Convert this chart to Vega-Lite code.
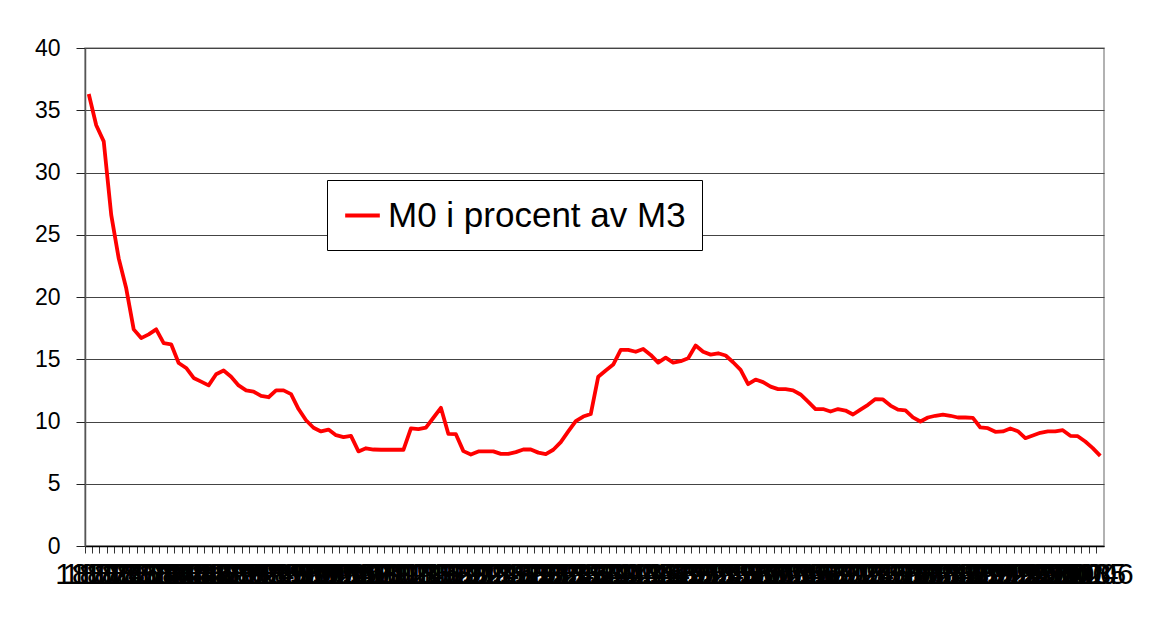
{
  "$schema": "https://vega.github.io/schema/vega-lite/v6.json",
  "autosize": {"type": "none"},
  "width": 1019,
  "height": 498,
  "padding": {"left": 85, "top": 48, "right": 62, "bottom": 93},
  "background": "white",
  "config": {
    "font": "Liberation Sans",
    "view": {"stroke": "#999999", "strokeWidth": 1.5}
  },
  "data": {
    "values": [
      {"year": 1871, "value": 36.3}, {"year": 1872, "value": 33.8}, {"year": 1873, "value": 32.5},
      {"year": 1874, "value": 26.6}, {"year": 1875, "value": 23.1}, {"year": 1876, "value": 20.7},
      {"year": 1877, "value": 17.4}, {"year": 1878, "value": 16.7}, {"year": 1879, "value": 17.0},
      {"year": 1880, "value": 17.4}, {"year": 1881, "value": 16.3}, {"year": 1882, "value": 16.2},
      {"year": 1883, "value": 14.7}, {"year": 1884, "value": 14.3}, {"year": 1885, "value": 13.5},
      {"year": 1886, "value": 13.2}, {"year": 1887, "value": 12.9}, {"year": 1888, "value": 13.8},
      {"year": 1889, "value": 14.1}, {"year": 1890, "value": 13.6}, {"year": 1891, "value": 12.9},
      {"year": 1892, "value": 12.5}, {"year": 1893, "value": 12.4}, {"year": 1894, "value": 12.05},
      {"year": 1895, "value": 11.95}, {"year": 1896, "value": 12.5}, {"year": 1897, "value": 12.5},
      {"year": 1898, "value": 12.2}, {"year": 1899, "value": 11.0}, {"year": 1900, "value": 10.1},
      {"year": 1901, "value": 9.5}, {"year": 1902, "value": 9.2}, {"year": 1903, "value": 9.35},
      {"year": 1904, "value": 8.9}, {"year": 1905, "value": 8.75}, {"year": 1906, "value": 8.85},
      {"year": 1907, "value": 7.6}, {"year": 1908, "value": 7.85}, {"year": 1909, "value": 7.75},
      {"year": 1910, "value": 7.73}, {"year": 1911, "value": 7.73}, {"year": 1912, "value": 7.73},
      {"year": 1913, "value": 7.73}, {"year": 1914, "value": 9.45}, {"year": 1915, "value": 9.38},
      {"year": 1916, "value": 9.5}, {"year": 1917, "value": 10.3}, {"year": 1918, "value": 11.1},
      {"year": 1919, "value": 9.0}, {"year": 1920, "value": 8.98}, {"year": 1921, "value": 7.62},
      {"year": 1922, "value": 7.35}, {"year": 1923, "value": 7.6}, {"year": 1924, "value": 7.6},
      {"year": 1925, "value": 7.6}, {"year": 1926, "value": 7.4}, {"year": 1927, "value": 7.4},
      {"year": 1928, "value": 7.54}, {"year": 1929, "value": 7.75}, {"year": 1930, "value": 7.75},
      {"year": 1931, "value": 7.5}, {"year": 1932, "value": 7.38}, {"year": 1933, "value": 7.73},
      {"year": 1934, "value": 8.34}, {"year": 1935, "value": 9.2}, {"year": 1936, "value": 10.03},
      {"year": 1937, "value": 10.4}, {"year": 1938, "value": 10.6}, {"year": 1939, "value": 13.6},
      {"year": 1940, "value": 14.1}, {"year": 1941, "value": 14.57}, {"year": 1942, "value": 15.75},
      {"year": 1943, "value": 15.75}, {"year": 1944, "value": 15.6}, {"year": 1945, "value": 15.83},
      {"year": 1946, "value": 15.35}, {"year": 1947, "value": 14.73}, {"year": 1948, "value": 15.13},
      {"year": 1949, "value": 14.73}, {"year": 1950, "value": 14.84}, {"year": 1951, "value": 15.08},
      {"year": 1952, "value": 16.1}, {"year": 1953, "value": 15.6}, {"year": 1954, "value": 15.37},
      {"year": 1955, "value": 15.48}, {"year": 1956, "value": 15.3}, {"year": 1957, "value": 14.76},
      {"year": 1958, "value": 14.15}, {"year": 1959, "value": 13.0}, {"year": 1960, "value": 13.37},
      {"year": 1961, "value": 13.16}, {"year": 1962, "value": 12.8}, {"year": 1963, "value": 12.6},
      {"year": 1964, "value": 12.6}, {"year": 1965, "value": 12.5}, {"year": 1966, "value": 12.17},
      {"year": 1967, "value": 11.6}, {"year": 1968, "value": 11.0}, {"year": 1969, "value": 11.0},
      {"year": 1970, "value": 10.8}, {"year": 1971, "value": 11.0}, {"year": 1972, "value": 10.88},
      {"year": 1973, "value": 10.56}, {"year": 1974, "value": 10.96}, {"year": 1975, "value": 11.34},
      {"year": 1976, "value": 11.8}, {"year": 1977, "value": 11.77}, {"year": 1978, "value": 11.28},
      {"year": 1979, "value": 10.95}, {"year": 1980, "value": 10.9}, {"year": 1981, "value": 10.33},
      {"year": 1982, "value": 10.0}, {"year": 1983, "value": 10.32}, {"year": 1984, "value": 10.46},
      {"year": 1985, "value": 10.56}, {"year": 1986, "value": 10.46}, {"year": 1987, "value": 10.32},
      {"year": 1988, "value": 10.32}, {"year": 1989, "value": 10.29}, {"year": 1990, "value": 9.52},
      {"year": 1991, "value": 9.46}, {"year": 1992, "value": 9.17}, {"year": 1993, "value": 9.2},
      {"year": 1994, "value": 9.44}, {"year": 1995, "value": 9.22}, {"year": 1996, "value": 8.66},
      {"year": 1997, "value": 8.87}, {"year": 1998, "value": 9.09}, {"year": 1999, "value": 9.2},
      {"year": 2000, "value": 9.2}, {"year": 2001, "value": 9.3}, {"year": 2002, "value": 8.85},
      {"year": 2003, "value": 8.82}, {"year": 2004, "value": 8.39}, {"year": 2005, "value": 7.86},
      {"year": 2006, "value": 7.24}
    ]
  },
  "mark": {"type": "line", "strokeWidth": 3.8, "strokeJoin": "round"},
  "encoding": {
    "x": {
      "field": "year",
      "type": "ordinal",
      "scale": {"type": "band", "paddingInner": 0, "paddingOuter": 0},
      "axis": {
        "title": null,
        "bandPosition": 0,
        "labelAngle": 0,
        "labelOverlap": false,
        "labelBound": false,
        "labelFlush": false,
        "labelFontSize": 30,
        "labelColor": "#000000",
        "labelDx": 24,
        "labelPadding": 6,
        "labelBaseline": "top",
        "tickSize": 7,
        "tickColor": "#333333",
        "tickWidth": 1,
        "domainColor": "#000000",
        "domainWidth": 1.5,
        "grid": false
      }
    },
    "y": {
      "field": "value",
      "type": "quantitative",
      "scale": {"domain": [0, 40], "nice": false, "zero": true},
      "axis": {
        "title": null,
        "values": [0, 5, 10, 15, 20, 25, 30, 35, 40],
        "labelFontSize": 23,
        "labelColor": "#000000",
        "labelPadding": 16,
        "tickSize": 9,
        "tickColor": "#222222",
        "domainColor": "#555555",
        "domainWidth": 1.5,
        "grid": true,
        "gridColor": "#444444",
        "gridWidth": 1.2
      }
    },
    "color": {
      "datum": "M0 i procent av M3",
      "scale": {"range": ["#FF0000"]},
      "legend": {
        "title": null,
        "orient": "none",
        "legendX": 242,
        "legendY": 132,
        "direction": "vertical",
        "strokeColor": "#000000",
        "fillColor": "#ffffff",
        "padding": 16,
        "symbolType": "stroke",
        "symbolSize": 1200,
        "symbolStrokeWidth": 4,
        "labelFontSize": 35,
        "labelColor": "#000000",
        "labelOffset": 6,
        "labelLimit": 0
      }
    }
  }
}
